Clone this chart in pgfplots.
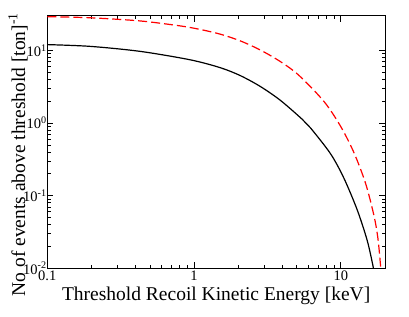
\documentclass[border=0pt]{standalone}
\usepackage{pgfplots}
\pgfplotsset{compat=1.18}
\usepackage{fontspec}
\setmainfont{Liberation Serif}
\pgfplotstableread{
E N
0.1 12.0
0.196 11.35
0.43 9.68
0.942 7.41
1.51 5.77
2.067 4.49
2.831 3.18
3.876 2.05
5.458 1.125
6.213 0.857
8.505 0.378
10.48 0.175
12.94 0.0635
15.14 0.0240
16.64 0.0103
16.75 0.009
}\blackdata
\pgfplotstableread{
E N
0.1 29.1
0.196 28.1
0.43 25.4
0.805 21.7
1.102 19.4
1.51 16.7
2.067 13.5
2.831 10.1
3.876 7.0
5.168 4.55
7.66 1.99
9.95 0.906
12.27 0.393
14.74 0.148
16.8 0.0536
17.89 0.026
18.66 0.0107
18.75 0.009
}\reddata
\begin{document}
\begin{tikzpicture}
\begin{axis}[
  scale only axis,
  width=337.7pt, height=252.6pt,
  xmode=log, ymode=log,
  xmin=0.1, xmax=20, ymin=0.01, ymax=30,
  xtick={0.1,1,10}, xticklabels={0.1,1,10},
  ytick={0.01,0.1,1,10},
  yticklabels={10\textsuperscript{-2},10\textsuperscript{-1},10\textsuperscript{0},10\textsuperscript{1}},
  /pgf/number format/assume math mode=true,
  tick align=inside,
  major tick length=6pt, minor tick length=3.5pt,
  axis line style={line width=1pt},
  every tick/.style={black, line width=0.7pt},
  ticklabel style={font=\fontsize{14.5}{16}\selectfont},
  xticklabel style={inner sep=2.5pt},
  yticklabel style={inner sep=0.5pt},
  xlabel={Threshold Recoil Kinetic Energy [keV]},
  ylabel={No of events above threshold [ton]\textsuperscript{-1}},
  label style={font=\fontsize{19.5}{22}\selectfont},
  xlabel style={at={(axis description cs:0.5,-0.128)}, anchor=base},
  ylabel style={at={(axis description cs:-0.066,0.45)}, anchor=base},
]
\addplot[black, line width=1.2pt, smooth] table[x=E, y=N] {\blackdata};
\addplot[red, line width=1.2pt, smooth, dash pattern=on 9pt off 4pt] table[x=E, y=N] {\reddata};
\end{axis}
\pgfresetboundingbox
\path (-47.3pt,-47.7pt) rectangle (361.7pt,268.3pt);
\end{tikzpicture}
\end{document}
